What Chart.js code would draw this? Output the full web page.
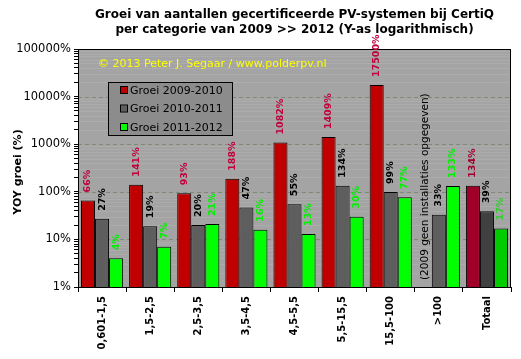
<!DOCTYPE html>
<html><head><meta charset="utf-8">
<script src="https://cdn.jsdelivr.net/npm/chart.js@4/dist/chart.umd.min.js"></script>
<style>html,body{margin:0;padding:0;background:#fff}#wrap{width:521px;height:359px}</style>
</head><body><div id="wrap"><canvas id="c" width="521" height="359"></canvas></div>
<script>
const categories = ["0,601-1,5","1,5-2,5","2,5-3,5","3,5-4,5","4,5-5,5","5,5-15,5","15,5-100",">100","Totaal"];
const groei2009_2010 = [66,141,93,188,1082,1409,17500,null,134];
const groei2010_2011 = [27,19,20,47,55,134,99,33,39];
const groei2011_2012 = [4,7,21,16,13,30,77,133,17];
const seriesNames = ["Groei 2009-2010","Groei 2010-2011","Groei 2011-2012"];
const yTickValues = [1,10,100,1000,10000,100000];
const titleLines = ["Groei van aantallen gecertificeerde PV-systemen bij CertiQ","per categorie van 2009 >> 2012 (Y-as logarithmisch)"];
const yTitle = "YOY groei (%)";
const copyright = "\u00a9 2013 Peter J. Segaar / www.polderpv.nl";
const note = "(2009 geen installaties opgegeven)";

const FONT = "'DejaVu Sans', Verdana, sans-serif";
const n = categories.length;
function colArr(normal, last){ return categories.map((c,i)=> i===n-1 ? last : normal); }

const labelColors = [colArr("#c0003c","#a00030"), colArr("#000000","#000000"), colArr("#00f000","#33cc33")];

const decorPlugin = {
  id:'decor',
  beforeDatasetsDraw(chart){
    const {ctx, chartArea:a, scales:{y}} = chart;
    ctx.save();
    ctx.fillStyle = '#a4a4a4';
    ctx.fillRect(a.left, a.top, a.right-a.left, a.bottom-a.top);
    for (let p=0;p<5;p++){
      for (let m=2;m<=9;m++){
        const v = m*Math.pow(10,p);
        const py = Math.round(y.getPixelForValue(v))+0.5;
        ctx.strokeStyle = '#acacac'; ctx.lineWidth = 1;
        ctx.beginPath(); ctx.moveTo(a.left,py); ctx.lineTo(a.right,py); ctx.stroke();
      }
    }
    ctx.setLineDash([4,3]);
    yTickValues.forEach(v=>{
      const py = Math.round(y.getPixelForValue(v))+0.5;
      if (py<=a.top+1 || py>=a.bottom-1) return;
      ctx.strokeStyle = '#7f8a78';
      ctx.beginPath(); ctx.moveTo(a.left,py); ctx.lineTo(a.right,py); ctx.stroke();
    });
    ctx.restore();
  },
  afterDatasetsDraw(chart){
    const {ctx, chartArea:a, scales:{x,y}} = chart;
    ctx.save();
    ctx.strokeStyle = '#000'; ctx.lineWidth = 1;
    ctx.strokeRect(a.left+0.5, a.top+0.5, a.right-a.left-1, a.bottom-a.top);
    chart.data.datasets.forEach((ds,di)=>{
      const meta = chart.getDatasetMeta(di);
      meta.data.forEach((el,i)=>{
        const v = ds.data[i];
        if (v===null || v===undefined) return;
        ctx.save();
        ctx.translate(el.x, el.y - 8);
        ctx.rotate(-Math.PI/2);
        ctx.font = "bold 9.5px " + FONT;
        ctx.fillStyle = labelColors[di][i];
        ctx.textAlign = 'left'; ctx.textBaseline = 'middle';
        ctx.fillText(v + '%', 0, 0);
        ctx.restore();
      });
    });
    const gm = chart.getDatasetMeta(1).data[7];
    ctx.save();
    ctx.translate(gm.x - gm.width, a.bottom - 7);
    ctx.rotate(-Math.PI/2);
    ctx.font = "10.5px " + FONT; ctx.fillStyle = '#000';
    ctx.textAlign='left'; ctx.textBaseline='middle';
    ctx.fillText(note,0,0);
    ctx.restore();
    ctx.font = "11px " + FONT; ctx.fillStyle = '#ffff00';
    ctx.textAlign='left'; ctx.textBaseline='middle';
    ctx.fillText(copyright, a.left+20, a.top+15);
    const lx = a.left+30, ly = a.top+33, lw = 124, lh = 53;
    ctx.fillStyle = '#8c8c8c'; ctx.fillRect(lx,ly,lw,lh);
    ctx.strokeStyle='#000'; ctx.strokeRect(lx+0.5,ly+0.5,lw,lh);
    chart.data.datasets.forEach((ds,di)=>{
      const ry = ly + 8 + di*18.5;
      ctx.fillStyle = ds.backgroundColor[0];
      ctx.fillRect(lx+13, ry-3, 6, 6);
      ctx.strokeStyle='#000'; ctx.strokeRect(lx+12.5, ry-3.5, 7, 7);
      ctx.fillStyle = '#000'; ctx.font = "11px " + FONT;
      ctx.textAlign='left'; ctx.textBaseline='middle';
      ctx.fillText(ds.label, lx+22, ry+1);
    });
    const cx = (a.left+a.right)/2;
    ctx.font = "bold 12px " + FONT; ctx.fillStyle='#000'; ctx.textAlign='center';
    ctx.fillText(titleLines[0], cx, 15);
    ctx.fillText(titleLines[1], cx, 30);
    ctx.save();
    ctx.translate(18, (a.top+a.bottom)/2 + 4);
    ctx.rotate(-Math.PI/2);
    ctx.font = "bold 11px " + FONT; ctx.textAlign='center'; ctx.textBaseline='middle';
    ctx.fillText(yTitle,0,0);
    ctx.restore();
    ctx.restore();
  }
};

new Chart(document.getElementById('c'), {
  type:'bar',
  data:{
    labels: categories,
    datasets:[
      {label:seriesNames[0], data:groei2009_2010, backgroundColor:colArr('#c00000','#a00028'), borderColor:'#000', borderWidth:1},
      {label:seriesNames[1], data:groei2010_2011, backgroundColor:colArr('#5e5e5e','#404040'), borderColor:'#000', borderWidth:1},
      {label:seriesNames[2], data:groei2011_2012, backgroundColor:colArr('#00ff00','#00cc00'), borderColor:'#000', borderWidth:1}
    ]
  },
  options:{
    responsive:false, animation:false, devicePixelRatio:1,
    layout:{padding:{left:0, top:49, right:10, bottom:0}},
    plugins:{legend:{display:false}, title:{display:false}, tooltip:{enabled:false}},
    datasets:{bar:{categoryPercentage:0.875, barPercentage:1.0, skipNull:false}},
    scales:{
      x:{
        grid:{drawOnChartArea:false, drawTicks:true, tickLength:5, tickColor:'#000', offset:true},
        border:{color:'#000'},
        ticks:{color:'#000', font:{family:FONT, size:10, weight:'bold'}, minRotation:90, maxRotation:90, autoSkip:false, padding:4},
        afterFit(s){ s.height = 72; }
      },
      y:{
        type:'logarithmic', min:1, max:100000,
        afterBuildTicks(s){
          const t=[];
          for(let p=0;p<5;p++){ for(let m=1;m<=9;m++) t.push({value:m*Math.pow(10,p)}); }
          t.push({value:100000});
          s.ticks = t;
        },
        grid:{drawOnChartArea:false, drawTicks:true, tickLength:4, tickColor:'#000'},
        border:{color:'#000'},
        ticks:{color:'#000', autoSkip:false, padding:3, font:{family:FONT, size:11.5},
          callback:(v)=> yTickValues.includes(v) ? v + '%' : ''},
        afterFit(s){ s.width = 78; }
      }
    }
  },
  plugins:[decorPlugin]
});
</script>
</body></html>
